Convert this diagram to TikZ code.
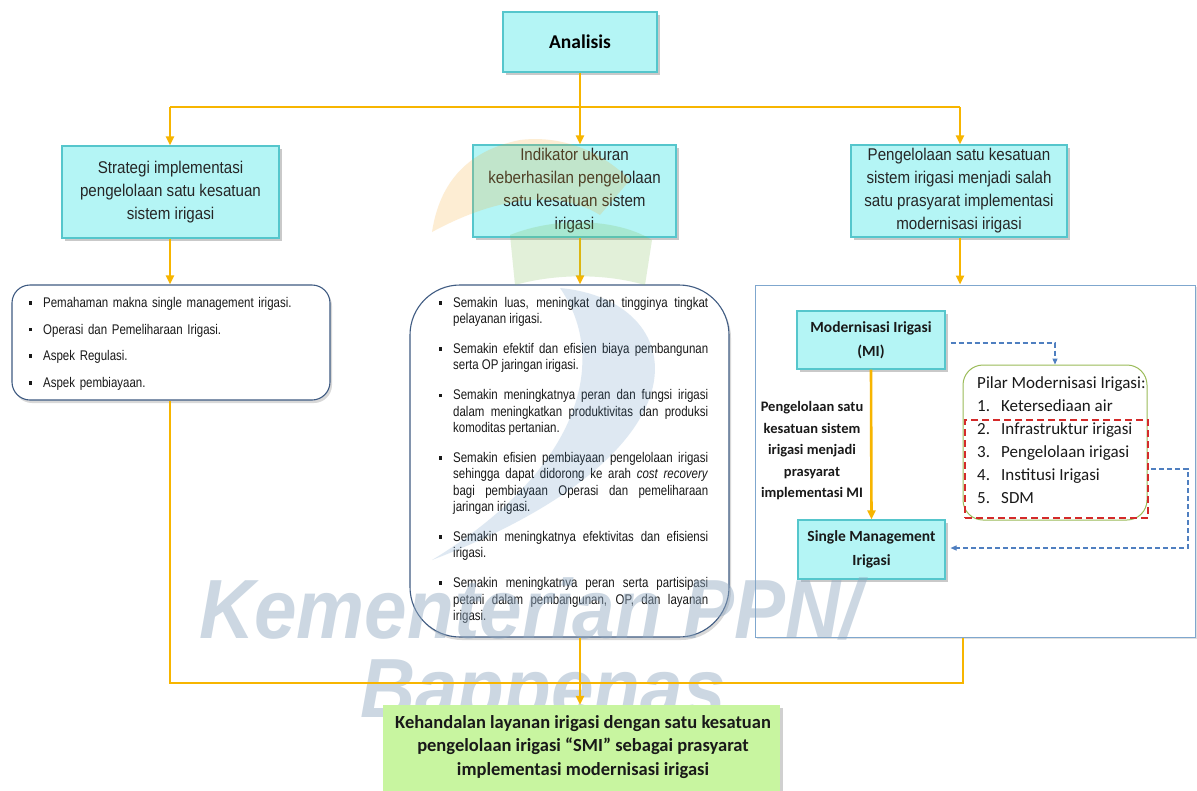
\documentclass[tikz,border=0pt]{standalone}
\usepackage{fontspec}
\setmainfont{Liberation Sans}
\newfontfamily\narrowfont[FakeStretch=0.89]{Liberation Sans}
\newfontfamily\listfont[FakeStretch=0.82]{Liberation Sans}
\newfontfamily\calfont{Carlito}
\newfontfamily\wmfont[FakeStretch=0.91]{Liberation Sans}
\usetikzlibrary{arrows.meta,shadows,calc}
\definecolor{cyanfill}{HTML}{B4F5F5}
\definecolor{cyanedge}{HTML}{55C6CC}
\definecolor{yel}{HTML}{F7B500}
\definecolor{listedge}{HTML}{3F5B82}
\definecolor{paneledge}{HTML}{7FA7CE}
\definecolor{pilaredge}{HTML}{9BBB59}
\definecolor{reddash}{HTML}{D42A2A}
\definecolor{bluedash}{HTML}{4F7FC0}
\definecolor{finfill}{HTML}{C8F5A0}
\definecolor{wmcol}{HTML}{8EA7C0}
\definecolor{logoor}{HTML}{F5A623}
\definecolor{logogr}{HTML}{7DBB55}
\definecolor{logobl}{HTML}{3D7AB3}
\newcommand{\bul}{\makebox[0pt][r]{\raisebox{2.8pt}{\rule{3.6pt}{3.6pt}}\hspace{11pt}}}
\newcommand{\listsetup}{\setlength{\parindent}{0pt}\setlength{\parskip}{0pt}\tolerance=9999\relax\hyphenpenalty=10000\relax}
\begin{document}
\begin{tikzpicture}[x=1pt,y=-1pt,
  shad/.style={drop shadow={shadow xshift=3pt,shadow yshift=-3pt,opacity=0.35,fill=black!60}},
  cyanbox/.style={draw=cyanedge,fill=cyanfill,line width=1.1pt,inner sep=0pt,align=center,shad},
  boxtext/.style={font=\narrowfont\fontsize{17}{23}\selectfont,text=black!85},
  listbox/.style={draw=listedge,fill=white,line width=1.1pt,inner sep=0pt,
    drop shadow={shadow xshift=2pt,shadow yshift=-3pt,opacity=0.25,fill=black!60}},
  listtext/.style={inner sep=0pt,align=justify,text=black!90,font=\listfont\fontsize{14}{16.3}\selectfont},
  yline/.style={draw=yel,line width=2.6pt},
  yarrow/.style={yline,-{Triangle[length=9pt,width=8pt]}},
  bdash/.style={draw=bluedash,line width=1.1pt,dash pattern=on 5pt off 3pt,-{Triangle[length=6pt,width=5pt]}},
  boldcal/.style={font=\calfont\bfseries\fontsize{15.5}{24}\selectfont,text=black!90},
  wmark/.style={anchor=base west,inner sep=0pt,text=wmcol,opacity=0.45,font=\wmfont\bfseries\itshape\fontsize{84}{84}\selectfont},
]
\useasboundingbox (0,0) rectangle (1197,790);
\fill[white] (0,0) rectangle (1197,790);

% top boxes
\node[cyanbox,minimum width=154pt,minimum height=60pt,font=\calfont\bfseries\fontsize{19.5}{24}\selectfont] (ana) at (580,42) {Analisis};
\node[cyanbox,boxtext,minimum width=217pt,minimum height=92pt] (b1) at (170.5,192)
  {Strategi implementasi\\pengelolaan satu kesatuan\\sistem irigasi};
\node[cyanbox,boxtext,minimum width=203pt,minimum height=92pt] (b2) at (574.5,191)
  {Indikator ukuran\\keberhasilan pengelolaan\\satu kesatuan sistem\\irigasi};
\node[cyanbox,boxtext,minimum width=216pt,minimum height=92pt] (b3) at (959,191)
  {Pengelolaan satu kesatuan\\sistem irigasi menjadi salah\\satu prasyarat implementasi\\modernisasi irigasi};

% list boxes
\node[listbox,rounded corners=18pt,minimum width=318pt,minimum height=115pt] (l1) at (171,342.5) {};
\node[listtext,align=left,text width=285pt,anchor=north west,
  font=\listfont\fontsize{14}{26.7}\selectfont] (l1t) at (43,297)
  {\listsetup\bul Pemahaman makna single management irigasi.\\
   \bul Operasi dan Pemeliharaan Irigasi.\\
   \bul Aspek Regulasi.\\
   \bul Aspek pembiayaan.};

\node[listbox,rounded corners=50pt,minimum width=319pt,minimum height=352pt] (l2) at (569.5,461) {};
\node[listtext,text width=255pt,anchor=north west] (l2t) at (453,297)
  {\listsetup\bul Semakin luas, meningkat dan tingginya tingkat\linebreak pelayanan irigasi.\par\vspace{13.7pt}
   \bul Semakin efektif dan efisien biaya pembangunan\linebreak serta OP jaringan irigasi.\par\vspace{13.7pt}
   \bul Semakin meningkatnya peran dan fungsi irigasi\linebreak dalam meningkatkan produktivitas dan produksi\linebreak komoditas pertanian.\par\vspace{13.7pt}
   \bul Semakin efisien pembiayaan pengelolaan irigasi\linebreak sehingga dapat didorong ke arah \textit{cost recovery}\linebreak bagi pembiayaan Operasi dan pemeliharaan\linebreak jaringan irigasi.\par\vspace{13.7pt}
   \bul Semakin meningkatnya efektivitas dan efisiensi\linebreak irigasi.\par\vspace{13.7pt}
   \bul Semakin meningkatnya peran serta partisipasi\linebreak petani dalam pembangunan, OP, dan layanan\linebreak irigasi.\par};

% right panel
\node[draw=paneledge,fill=white,line width=1pt,inner sep=0pt,minimum width=440pt,minimum height=352pt,
  drop shadow={shadow xshift=2pt,shadow yshift=-2pt,opacity=0.2,fill=black!60}] (panel) at (975,461) {};
\node[cyanbox,boldcal,minimum width=148pt,minimum height=58pt] (mi) at (871,340) {Modernisasi Irigasi\\(MI)};
\node[cyanbox,boldcal,minimum width=147pt,minimum height=59pt] (smi) at (871.5,549.5) {Single Management\\Irigasi};
\node[font=\calfont\bfseries\fontsize{14.5}{21.5}\selectfont,align=center,inner sep=0pt,text=black!90] (lbl) at (812,451)
  {Pengelolaan satu\\kesatuan sistem\\irigasi menjadi\\prasyarat\\implementasi MI};
\node[draw=pilaredge,line width=1pt,rounded corners=20pt,inner sep=0pt,minimum width=184pt,minimum height=155pt] (pilar) at (1055,442.5) {};
\node[draw=reddash,line width=2.4pt,dash pattern=on 7pt off 4pt,inner sep=0pt,minimum width=183pt,minimum height=98pt] (red) at (1056.5,469) {};
\node[font=\calfont\fontsize{17}{23}\selectfont,align=left,anchor=north west,inner sep=0pt,text=black!90] (pilt) at (977,376)
  {Pilar Modernisasi Irigasi:\\
   \makebox[24pt][l]{1.}Ketersediaan air\\
   \makebox[24pt][l]{2.}Infrastruktur irigasi\\
   \makebox[24pt][l]{3.}Pengelolaan irigasi\\
   \makebox[24pt][l]{4.}Institusi Irigasi\\
   \makebox[24pt][l]{5.}SDM};

% connectors
\coordinate (hl) at (170,107);
\coordinate (hm) at (580,107);
\coordinate (hr) at (960,107);
\coordinate (jl) at (170,683);
\coordinate (jr) at (963,683);
\coordinate (c1) at (1188,469);
\coordinate (c2) at (1188,548);
\draw[yline] (ana.south) -- (hm);
\draw[yline] (hl) -- (hr);
\draw[yarrow] (hl) -- (b1.north -| hl);
\draw[yarrow] (hm) -- (b2.north -| hm);
\draw[yarrow] (hr) -- (b3.north -| hr);
\draw[yarrow] (b1.south -| hl) -- (l1.north -| hl);
\draw[yarrow] (b2.south -| hm) -- (l2.north -| hm);
\draw[yarrow] (b3.south -| hr) -- (panel.north -| hr);
\draw[yarrow] (mi.south) -- (smi.north);
\draw[bdash] ([xshift=5pt,yshift=-3pt]mi.east) -| (pilar.north);
\draw[bdash] ([xshift=2pt]red.east) -- (c1) -- (c2) -- ([xshift=5pt]smi.east |- c2);

% logo and watermark
\fill[logoor,opacity=0.2] (432,232) .. controls (440,180) and (470,150) .. (520,140)
  .. controls (560,135) and (600,150) .. (630,180) -- (600,215)
  .. controls (560,190) and (500,195) .. (432,232) -- cycle;
\fill[logogr,opacity=0.22] (510,235) .. controls (560,215) and (620,220) .. (652,240)
  -- (645,285) .. controls (600,272) and (550,275) .. (515,285) -- cycle;
\fill[logobl,opacity=0.17] (560,288) .. controls (690,300) and (720,450) .. (432,560)
  .. controls (580,470) and (610,360) .. (560,288) -- cycle;
\node[wmark] (wm1) at (199,638) {Kementerian PPN/};
\node[wmark] (wm2) at (360,717) {Bappenas};

\draw[yline] (l1.south -| jl) -- (jl) -- (jr) -- (panel.south -| jr);
% final box
\node[fill=finfill,inner sep=0pt,minimum width=397pt,minimum height=88pt,
  drop shadow={shadow xshift=3pt,shadow yshift=-3pt,opacity=0.3,fill=black!60}] (fin) at (581.5,749) {};
\node[font=\calfont\bfseries\fontsize{18.5}{23.5}\selectfont,align=center,inner sep=0pt,text=black!90] (fint) at (583,747)
  {Kehandalan layanan irigasi dengan satu kesatuan\\pengelolaan irigasi “SMI” sebagai prasyarat\\implementasi modernisasi irigasi};
\draw[yarrow] (l2.south -| hm) -- (fin.north -| hm);
\end{tikzpicture}
\end{document}
